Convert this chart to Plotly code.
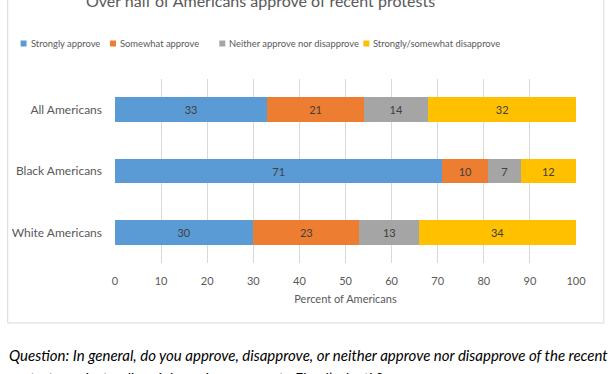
import plotly.graph_objects as go

categories = ["All Americans", "Black Americans", "White Americans"]
series_names = ["Strongly approve", "Somewhat approve",
                "Neither approve nor disapprove", "Strongly/somewhat disapprove"]
strongly_approve = [33, 71, 30]
somewhat_approve = [21, 10, 23]
neither = [14, 7, 13]
disapprove = [32, 12, 34]
colors = ["#5B9BD5", "#ED7D31", "#A5A5A5", "#FFC000"]
x_ticks = [0, 10, 20, 30, 40, 50, 60, 70, 80, 90, 100]

title_text = "Over half of Americans approve of recent protests"
x_title = "Percent of Americans"
question_lines = [
    "Question: In general, do you approve, disapprove, or neither approve nor disapprove of the recent",
    "protests against police violence in response to Floyd\u2019s death?",
]

FONT = "Lato"
W, H = 612, 374
L, R, T, B = 112, 36, 79, 111
PW, PH = W - L - R, H - T - B


def px(x):
    return (x - L) / PW


def py(y):
    return (H - B - y) / PH


fig = go.Figure()
for name, vals, col in zip(series_names,
                           [strongly_approve, somewhat_approve, neither, disapprove],
                           colors):
    fig.add_trace(go.Bar(
        y=categories, x=vals, name=name, orientation="h",
        marker=dict(color=col, line=dict(width=0)),
        text=[str(v) for v in vals], textposition="inside",
        insidetextanchor="middle",
        textfont=dict(family=FONT, size=11, color="#404040"),
        showlegend=False, hoverinfo="x+name",
    ))

shapes = []
annotations = []

# chart border
shapes.append(dict(type="rect", xref="paper", yref="paper",
                   x0=px(4), x1=px(604), y0=py(-20), y1=py(323),
                   line=dict(color="#D9D9D9", width=1), fillcolor="rgba(0,0,0,0)",
                   layer="below"))

# manual legend
leg_x = [17, 107, 217, 362]
for name, col, lx in zip(series_names, colors, leg_x):
    shapes.append(dict(type="rect", xref="paper", yref="paper",
                       x0=px(lx), x1=px(lx + 6), y0=py(46.5), y1=py(40.5),
                       fillcolor=col, line=dict(width=0)))
    annotations.append(dict(text=name, xref="paper", yref="paper",
                            x=px(lx + 8), y=py(43.5), xanchor="left", yanchor="middle",
                            showarrow=False,
                            font=dict(family=FONT, size=9.4, color="#595959")))

# title (cut off at top)
annotations.append(dict(text=title_text, xref="paper", yref="paper",
                        x=px(258), y=py(0), xanchor="center", yanchor="middle",
                        showarrow=False,
                        font=dict(family=FONT, size=16, color="#595959")))

# question
annotations.append(dict(text="<i>" + question_lines[0] + "</i>", xref="paper", yref="paper",
                        x=px(3), y=py(355), xanchor="left", yanchor="middle",
                        showarrow=False,
                        font=dict(family=FONT, size=15, color="#000000")))
annotations.append(dict(text="<i>" + question_lines[1] + "</i>", xref="paper", yref="paper",
                        x=px(3), y=py(378), xanchor="left", yanchor="middle",
                        showarrow=False,
                        font=dict(family=FONT, size=15, color="#000000")))

fig.update_layout(
    width=W, height=H,
    margin=dict(l=L, r=R, t=T, b=B, pad=0),
    barmode="stack", bargap=0.6,
    plot_bgcolor="white", paper_bgcolor="white",
    font=dict(family=FONT, size=11, color="#595959"),
    xaxis=dict(range=[0, 100], tickvals=x_ticks, showgrid=True,
               gridcolor="#D9D9D9", gridwidth=1, zeroline=False,
               showline=False, ticks="", ticklabelstandoff=10,
               tickfont=dict(family=FONT, size=11, color="#595959"),
               title=dict(text=x_title, standoff=9,
                          font=dict(family=FONT, size=11, color="#595959")),
               fixedrange=True),
    yaxis=dict(autorange="reversed", showgrid=False, zeroline=False,
               showline=False, ticks="", ticklabelstandoff=12,
               tickfont=dict(family=FONT, size=12, color="#595959"),
               fixedrange=True),
    shapes=shapes, annotations=annotations,
    uniformtext=dict(mode="show", minsize=8),
)

fig.write_html(
    "out.html",
    config={"displayModeBar": False},
    post_script="document.body.style.margin='0';document.body.style.padding='0';",
)
